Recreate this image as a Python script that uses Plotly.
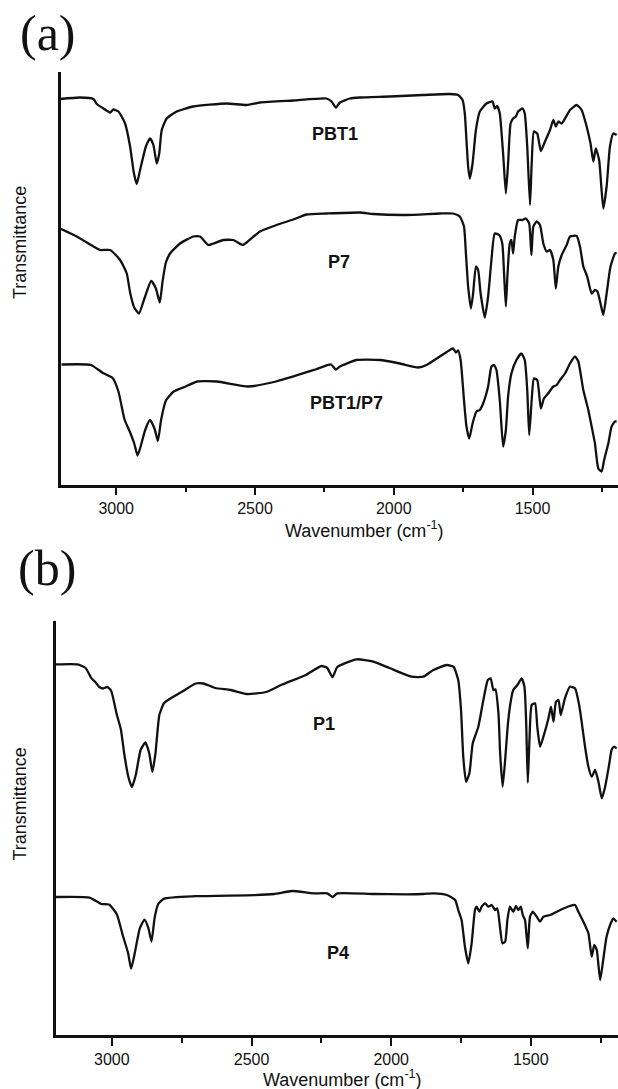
import plotly.graph_objects as go

W, H = 618, 1089

# ---------------- Panel (a) data (wavenumber cm-1, transmittance a.u.) ----------------
pbt1_wn = [3202, 3130, 3082, 3070, 3046, 3022, 3010, 2992, 2968, 2950, 2936, 2926, 2914, 2893, 2878,
           2866, 2854, 2845, 2836, 2818, 2782, 2722, 2602, 2530, 2482, 2362, 2242, 2224, 2208, 2194,
           2158, 2122, 2014, 1894, 1798, 1768, 1752, 1744, 1738, 1732, 1726, 1716, 1704, 1690, 1666,
           1644, 1636, 1627, 1618, 1606, 1596, 1588, 1579, 1570, 1560, 1552, 1536, 1528, 1519, 1509,
           1503, 1495, 1483, 1470, 1455, 1437, 1425, 1416, 1407, 1395, 1365, 1341, 1323, 1305, 1291,
           1281, 1272, 1260, 1245, 1233, 1221, 1209, 1197]
pbt1_t = [385.5, 387, 385.5, 380.5, 376, 372, 375, 373, 361, 338, 311, 300.5, 314.5, 338, 346,
          339.5, 321, 331, 354.5, 366, 373, 378, 381, 379.5, 382, 384, 386, 383, 377, 382,
          386, 387, 388, 389.5, 390.5, 389.5, 384.5, 371, 344.5, 318, 306, 321, 354.5, 373, 381,
          383, 376, 378.5, 371, 331, 291, 321, 361, 366, 368, 373, 376, 371, 338, 279.5,
          321, 353, 351, 333.5, 343, 354.5, 364.5, 358, 363, 361, 374.5, 379.5, 374.5, 358, 341,
          323, 336, 324.5, 276, 298, 338, 351, 349.5]

p7_wn = [3202, 3142, 3082, 3058, 3022, 2986, 2962, 2950, 2935, 2918, 2899, 2874, 2857, 2843, 2833,
         2821, 2806, 2770, 2722, 2698, 2668, 2650, 2614, 2578, 2544, 2530, 2482, 2422, 2362, 2314,
         2242, 2122, 2074, 1954, 1834, 1786, 1762, 1747, 1740, 1732, 1722, 1714, 1704, 1696, 1687,
         1672, 1660, 1648, 1636, 1620, 1609, 1602, 1596, 1590, 1582, 1576, 1570, 1564, 1552, 1536,
         1524, 1512, 1504, 1497, 1485, 1473, 1461, 1449, 1437, 1425, 1416, 1407, 1395, 1377, 1365,
         1341, 1329, 1317, 1303, 1287, 1275, 1266, 1255, 1245, 1233, 1219, 1203, 1197]
p7_t = [256, 248, 238, 234.5, 234.5, 224.5, 211, 192, 177, 171, 185.5, 203.5, 196, 182, 203,
        222, 231, 241, 248, 248, 239.5, 241, 244.5, 244.5, 239.5, 242, 253, 259.5, 265, 270,
        271, 272, 270.5, 269.5, 271, 271, 268, 258, 231, 198, 176, 191, 218, 214.5, 191,
        167, 188, 224.5, 251, 249.5, 241, 208, 178, 211, 241, 244.5, 231, 248, 264.5, 264.5,
        266, 261, 229.5, 258, 263, 259.5, 241, 233, 234.5, 224.5, 196, 218, 229.5, 239.5, 248,
        248.5, 238, 218, 208, 191, 194.5, 193, 181, 169.5, 191, 218, 231, 232]

blend_wn = [3197, 3091, 3048, 3013, 2992, 2970, 2949, 2935, 2923, 2912, 2895, 2878, 2861, 2850, 2838,
            2821, 2793, 2750, 2708, 2637, 2524, 2424, 2282, 2226, 2209, 2194, 2134, 2050, 1978, 1912,
            1882, 1834, 1798, 1786, 1776, 1768, 1759, 1747, 1738, 1728, 1716, 1702, 1690, 1678, 1660,
            1648, 1639, 1630, 1618, 1606, 1596, 1588, 1576, 1558, 1540, 1528, 1519, 1512, 1503, 1495,
            1483, 1470, 1459, 1444, 1425, 1413, 1401, 1383, 1365, 1347, 1335, 1317, 1299, 1287, 1275,
            1263, 1251, 1242, 1227, 1215, 1203, 1197]
blend_t = [120, 119.5, 111.5, 106.5, 93, 65, 51.5, 41, 29, 38, 55, 64.5, 55, 43.5, 65,
           84, 93, 98, 103, 103, 98, 103, 115, 120, 115, 118, 124.5, 124.5, 121, 117,
           119.5, 128, 134.5, 136, 132, 134, 124.5, 84.5, 58, 46, 61, 73, 74.5, 81, 98,
           118, 119.5, 114.5, 84.5, 38, 54.5, 88, 111, 124.5, 131, 124.5, 94.5, 49.5, 84.5, 106,
           104.5, 76, 86, 91, 98, 99.5, 104.5, 111, 121, 128, 123, 94.5, 74.5, 58, 41,
           16, 13, 24.5, 41, 58, 63, 63]

# ---------------- Panel (b) data ----------------
p1_wn = [3200, 3123, 3094, 3073, 3059, 3045, 3031, 3017, 3003, 2982, 2968, 2954, 2940, 2928, 2914,
         2897, 2880, 2866, 2855, 2844, 2830, 2813, 2785, 2742, 2700, 2672, 2630, 2574, 2517, 2447,
         2390, 2306, 2250, 2229, 2210, 2193, 2124, 2064, 2004, 1927, 1885, 1849, 1801, 1777, 1760,
         1750, 1742, 1732, 1720, 1708, 1688, 1670, 1654, 1644, 1634, 1627, 1616, 1610, 1601, 1592,
         1583, 1575, 1563, 1548, 1533, 1523, 1517, 1511, 1505, 1497, 1485, 1477, 1467, 1455, 1437,
         1428, 1419, 1410, 1401, 1393, 1378, 1360, 1342, 1326, 1306, 1294, 1282, 1270, 1258, 1246,
         1234, 1219, 1211, 1202, 1193]
p1_t = [370.6, 370.6, 367, 356.6, 353, 348, 346.5, 348, 344.5, 320, 306, 278, 257, 248, 260.5,
        285, 292.5, 281.5, 263, 281.5, 320, 332, 337.5, 344.5, 351.5, 351.5, 347, 345, 341, 343,
        350.5, 360, 369, 367, 357.7, 368, 375.7, 373.3, 366.7, 358.3, 358.3, 365, 370, 368.3, 355,
        325, 278.3, 253.3, 261.7, 291.7, 308.3, 335, 355, 356.7, 345, 345.7, 321.7, 281.7, 248.3, 275,
        308.3, 328.3, 345, 350, 356.7, 348.3, 315, 252.3, 295, 330, 331.7, 308.3, 288.3, 298.3, 316.7,
        328.3, 313.3, 333.3, 335, 320, 336.7, 348.3, 346.7, 328.3, 288.3, 268.3, 258.3, 265, 253.3, 236.7,
        248.3, 271.7, 285, 288.3, 286.7]

p4_wn = [3200, 3080, 3038, 3010, 2982, 2961, 2942, 2931, 2918, 2900, 2883, 2869, 2858, 2847, 2834,
         2813, 2700, 2489, 2419, 2355, 2278, 2229, 2210, 2193, 2064, 1945, 1885, 1849, 1801, 1771,
         1760, 1748, 1736, 1724, 1712, 1700, 1694, 1684, 1676, 1664, 1652, 1640, 1628, 1620, 1610,
         1602, 1592, 1584, 1575, 1563, 1553, 1545, 1536, 1529, 1521, 1511, 1503, 1493, 1479, 1467,
         1455, 1431, 1395, 1360, 1342, 1330, 1312, 1294, 1282, 1273, 1264, 1252, 1241, 1229, 1214,
         1205, 1193]
p4_t = [138, 137.4, 131, 130.4, 120.6, 99.7, 82, 66.4, 82, 106.6, 115.4, 106.6, 93.4, 117, 131,
        136.4, 138.8, 139.9, 141, 144, 141.6, 141.6, 138, 141.6, 141, 140.7, 141, 141.7, 140, 135,
        125, 115, 88.3, 71.7, 91.7, 125, 128.3, 123.3, 128.3, 131.7, 128.3, 130, 125, 126.7, 106.7,
        91.7, 93.3, 115, 128.3, 123.3, 129, 125, 128.3, 120, 115, 86.7, 118.3, 123.3, 118.3, 113.3,
        118.3, 120, 125, 129, 130, 123.3, 113.3, 101.7, 78.3, 90, 85, 55, 75, 98.3, 111.7,
        116.7, 113.3]

# labels: (text, wavenumber, transmittance)
labels_a = [("PBT1", 2212, 350.5), ("P7", 2197, 222.7), ("PBT1/P7", 2169, 81.8)]
labels_b = [("P1", 2240, 311), ("P4", 2190, 82)]

major_ticks = [3000, 2500, 2000, 1500]
tick_text = ["3000", "2500", "2000", "1500"]
minor_ticks = [2750, 2250, 1750, 1250]

# ---------------- figure ----------------
fig = go.Figure()
line = dict(color="#111111", width=2.3, shape="spline", smoothing=0.5)
for wn, t in [(pbt1_wn, pbt1_t), (p7_wn, p7_t), (blend_wn, blend_t)]:
    fig.add_trace(go.Scatter(x=wn, y=t, mode="lines", line=line, xaxis="x", yaxis="y",
                             showlegend=False, hoverinfo="skip"))
for wn, t in [(p1_wn, p1_t), (p4_wn, p4_t)]:
    fig.add_trace(go.Scatter(x=wn, y=t, mode="lines", line=line, xaxis="x2", yaxis="y2",
                             showlegend=False, hoverinfo="skip"))

def px(x):
    return x / W

def py(y):
    return 1 - y / H

tickfont = dict(family="Liberation Sans, Arial, sans-serif", size=16, color="#111111")
xcommon = dict(showline=True, linecolor="#111111", linewidth=2.5, ticks="outside", ticklen=8,
               tickwidth=2, tickcolor="#111111", tickvals=major_ticks, ticktext=tick_text,
               tickfont=tickfont, showgrid=False, zeroline=False,
               minor=dict(ticks="outside", ticklen=5, tickwidth=2, tickcolor="#111111",
                          tickvals=minor_ticks, showgrid=False))
ycommon = dict(showline=True, linecolor="#111111", linewidth=2.5, ticks="", showticklabels=False,
               showgrid=False, zeroline=False)

fig.update_layout(
    width=W, height=H, margin=dict(l=0, r=0, t=0, b=0),
    paper_bgcolor="white", plot_bgcolor="white",
    xaxis=dict(domain=[px(60.7), 1], range=[3200, 1192], anchor="y", **xcommon),
    yaxis=dict(domain=[py(484.5), py(71.7)], range=[0, 412.8], anchor="x", **ycommon),
    xaxis2=dict(domain=[px(56), 1], range=[3200, 1188], anchor="y2", **xcommon),
    yaxis2=dict(domain=[py(1035), py(620.7)], range=[0, 414.3], anchor="x2", **ycommon),
)

ann = []
lblfont = dict(family="Liberation Sans, Arial, sans-serif", size=18, color="#111111")
for text, x, y in labels_a:
    ann.append(dict(text="<b>%s</b>" % text, x=x, y=y, xref="x", yref="y", showarrow=False,
                    xanchor="center", yanchor="middle", font=lblfont))
for text, x, y in labels_b:
    ann.append(dict(text="<b>%s</b>" % text, x=x, y=y, xref="x2", yref="y2", showarrow=False,
                    xanchor="center", yanchor="middle", font=lblfont))

def paper_text(text, x, y, font, angle=0):
    return dict(text=text, x=px(x), y=py(y), xref="paper", yref="paper", showarrow=False,
                xanchor="center", yanchor="middle", textangle=angle, font=font)

serif = dict(family="Liberation Serif, Times New Roman, serif", size=50, color="#111111")
tfont = dict(family="Liberation Sans, Arial, sans-serif", size=18, color="#111111")
ann.append(paper_text("(a)", 48, 33, serif))
ann.append(paper_text("(b)", 47, 568, serif))
ann.append(paper_text("Transmittance", 20, 243, tfont, -90))
ann.append(paper_text("Transmittance", 19.5, 804, tfont, -90))
ann.append(paper_text("Wavenumber (cm<sup>-1</sup>)", 364, 529, tfont))
ann.append(paper_text("Wavenumber (cm<sup>-1</sup>)", 342, 1078, tfont))
fig.update_layout(annotations=ann)

fig.write_html("out.html", config={"displayModeBar": False},
               post_script="document.body.style.margin='0';document.body.style.overflow='hidden';")
